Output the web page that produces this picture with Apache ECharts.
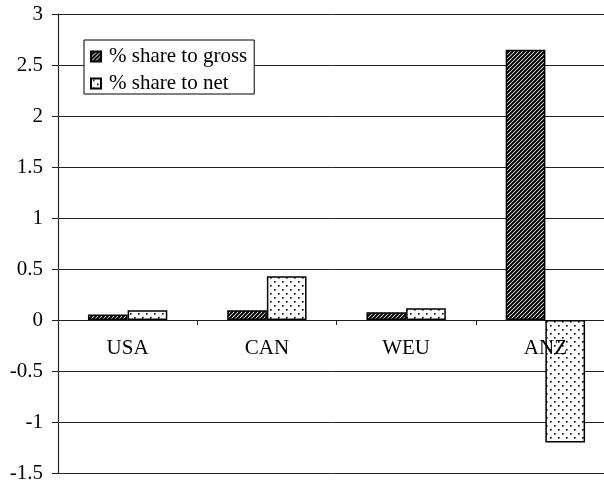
<!DOCTYPE html>
<html>
<head>
<meta charset="utf-8">
<script src="https://cdn.jsdelivr.net/npm/echarts@6/dist/echarts.min.js"></script>
<style>
  html, body { margin: 0; padding: 0; background: #fff; }
  #chart { width: 604px; height: 483px; }
</style>
</head>
<body>
<div id="chart"></div>
<script>
// Regions along the category axis
const regions = ['USA', 'CAN', 'WEU', 'ANZ'];
// Share values (%) for each region
const shareToGross = [0.055, 0.095, 0.075, 2.65];
const shareToNet = [0.095, 0.43, 0.115, -1.2];
// Value axis range
const yMin = -1.5, yMax = 3, yStep = 0.5;

const FONT = '"Liberation Serif", "DejaVu Serif", serif';
const GRID = { left: 58, top: 14, width: 557, height: 459 };
// Pixel distance from the bottom of the plot up to the zero line
const zeroOffset = GRID.height * (0 - yMin) / (yMax - yMin);

// Diagonal hatch fill (black stripes on white)
function hatchPattern() {
  const c = document.createElement('canvas');
  c.width = 4; c.height = 4;
  const g = c.getContext('2d');
  g.fillStyle = '#fff';
  g.fillRect(0, 0, 4, 4);
  g.strokeStyle = '#000';
  g.lineWidth = 2;
  g.beginPath();
  g.moveTo(-1, 5); g.lineTo(5, -1);
  g.moveTo(-1, 1); g.lineTo(1, -1);
  g.moveTo(3, 5); g.lineTo(5, 3);
  g.stroke();
  return c;
}

// Sparse staggered dot fill
function dotPattern() {
  const c = document.createElement('canvas');
  c.width = 8; c.height = 8;
  const g = c.getContext('2d');
  g.fillStyle = '#fff';
  g.fillRect(0, 0, 8, 8);
  g.fillStyle = '#000';
  g.fillRect(2, 1, 1.6, 1.6);
  g.fillRect(6, 5, 1.6, 1.6);
  return c;
}

const chart = echarts.init(document.getElementById('chart'), null, { renderer: 'canvas' });

chart.setOption({
  animation: false,
  backgroundColor: '#fff',
  textStyle: { fontFamily: FONT },
  grid: Object.assign({ containLabel: false, outerBoundsMode: 'none' }, GRID),
  legend: {
    orient: 'vertical',
    left: 84,
    top: 40,
    padding: [6, 7, 0, 6],
    itemGap: 6,
    itemWidth: 10,
    itemHeight: 10,
    backgroundColor: '#fff',
    borderColor: '#000',
    borderWidth: 1,
    borderRadius: 0,
    icon: 'rect',
    textStyle: { fontFamily: FONT, fontSize: 21, lineHeight: 21, color: '#000', padding: [0, 0, 0, 3] },
    data: ['% share to gross', '% share to net']
  },
  xAxis: [
    {
      // category axis drawn along the zero line
      type: 'category',
      data: regions,
      axisLine: { onZero: true, lineStyle: { color: '#222', width: 1.2 } },
      axisTick: { show: true, length: 5, lineStyle: { color: '#222', width: 1 } },
      axisLabel: { show: false },
      splitLine: { show: false }
    },
    {
      // region names, placed just under the zero line, drawn above the bars
      type: 'category',
      data: regions,
      position: 'bottom',
      offset: -zeroOffset,
      z: 10,
      axisLine: { show: false },
      axisTick: { show: false },
      axisLabel: { fontFamily: FONT, fontSize: 21, color: '#000', margin: 18 },
      splitLine: { show: false }
    }
  ],
  yAxis: {
    type: 'value',
    min: yMin,
    max: yMax,
    interval: yStep,
    axisLine: { show: true, onZero: false, lineStyle: { color: '#222', width: 1.2 } },
    axisTick: { show: true, length: 6, lineStyle: { color: '#222', width: 1 } },
    axisLabel: { fontFamily: FONT, fontSize: 21, color: '#000', margin: 15 },
    splitLine: { show: true, lineStyle: { color: '#222', width: 1 } }
  },
  series: [
    {
      name: '% share to gross',
      type: 'bar',
      data: shareToGross,
      barGap: '0%',
      barCategoryGap: '43%',
      itemStyle: {
        color: { image: hatchPattern(), repeat: 'repeat' },
        borderColor: '#000',
        borderWidth: 1.5
      }
    },
    {
      name: '% share to net',
      type: 'bar',
      data: shareToNet,
      barGap: '0%',
      barCategoryGap: '43%',
      itemStyle: {
        color: { image: dotPattern(), repeat: 'repeat' },
        borderColor: '#000',
        borderWidth: 1.5
      }
    }
  ]
});
</script>
</body>
</html>
